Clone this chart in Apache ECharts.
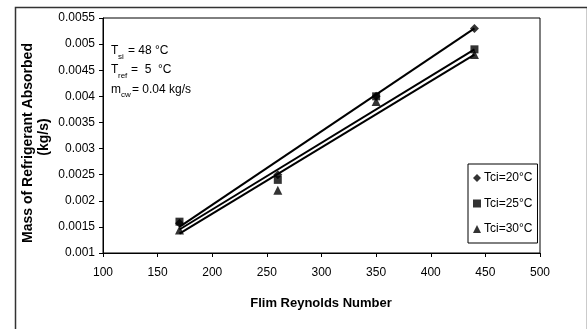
<!DOCTYPE html>
<html>
<head>
<meta charset="utf-8">
<script src="https://cdn.jsdelivr.net/npm/echarts@6/dist/echarts.min.js"></script>
<style>
  html, body { margin: 0; padding: 0; background: #fff; }
  #chart { width: 587px; height: 329px; }
</style>
</head>
<body>
<div id="chart"></div>
<script>
// measured points (Film Reynolds number vs mass absorbed, kg/s)
const reynolds = [170, 260, 350, 440];
const tci20 = [0.00157, 0.0025, 0.0040, 0.0053];
const tci25 = [0.0016, 0.0024, 0.0040, 0.0049];
const tci30 = [0.00144, 0.0022, 0.0039, 0.0048];

// trend line end points
const trendX = [170, 440];
const trend20 = [0.0015, 0.0053];
const trend25 = [0.00145, 0.0049];
const trend30 = [0.00137, 0.0048];

const seriesNames = ["Tci=20°C", "Tci=25°C", "Tci=30°C"];

const pairs = (xs, ys) => xs.map((x, i) => [x, ys[i]]);
const FONT = "Liberation Sans, Arial, sans-serif";

const chart = echarts.init(document.getElementById("chart"));

const trendLine = (ys) => ({
  type: "line",
  data: pairs(trendX, ys),
  showSymbol: false,
  symbol: "none",
  lineStyle: { color: "#000", width: 2 },
  silent: true,
  z: 2,
});

const points = (name, ys, symbol, size) => ({
  name,
  type: "scatter",
  data: pairs(reynolds, ys),
  symbol,
  symbolSize: size,
  itemStyle: { color: "#000" },
  z: 3,
});

chart.setOption({
  animation: false,
  backgroundColor: "#fff",
  textStyle: { fontFamily: FONT },
  grid: {
    left: 103, top: 18, width: 437, height: 235,
    show: true, borderColor: "#000", borderWidth: 1,
  },
  xAxis: {
    type: "value",
    min: 100, max: 500, interval: 50,
    axisLine: { lineStyle: { color: "#000", width: 1 } },
    axisTick: { show: true, length: 4, lineStyle: { color: "#000" } },
    axisLabel: { color: "#000", fontSize: 12, margin: 14, fontFamily: FONT },
    splitLine: { show: false },
  },
  yAxis: {
    type: "value",
    min: 0.001, max: 0.0055, interval: 0.0005,
    axisLine: { show: true, lineStyle: { color: "#000", width: 1 } },
    axisTick: { show: true, length: 4, lineStyle: { color: "#000" } },
    axisLabel: {
      color: "#000", fontSize: 12, margin: 8, fontFamily: FONT,
      formatter: (v) => String(parseFloat(v.toFixed(4))),
    },
    splitLine: { show: false },
  },
  legend: {
    orient: "vertical",
    left: 468, top: 164,
    padding: [7, 5, 7, 5],
    itemGap: 11.5,
    itemWidth: 8, itemHeight: 8,
    borderColor: "#000", borderWidth: 1,
    backgroundColor: "#fff",
    textStyle: { color: "#000", fontSize: 12, lineHeight: 14, fontFamily: FONT, padding: [0, 0, 0, -2] },
    data: [
      { name: seriesNames[0], icon: "diamond" },
      { name: seriesNames[1], icon: "rect" },
      { name: seriesNames[2], icon: "triangle" },
    ],
  },
  series: [
    trendLine(trend20),
    trendLine(trend25),
    trendLine(trend30),
    points(seriesNames[0], tci20, "diamond", 9),
    points(seriesNames[1], tci25, "rect", 8),
    points(seriesNames[2], tci30, "triangle", 9),
  ],
  graphic: [
    // outer frame
    {
      type: "rect", left: 13, top: 5, silent: true,
      shape: { width: 572, height: 340 },
      style: { fill: "none", stroke: "#333", lineWidth: 1.5 },
      z: -1,
    },
    // axis titles
    {
      type: "text", x: 28, y: 143, rotation: Math.PI / 2,
      style: {
        text: "Mass of Refrigerant Absorbed", fill: "#000",
        font: "bold 14px " + FONT, align: "center", verticalAlign: "middle",
      },
    },
    {
      type: "text", x: 44, y: 137, rotation: Math.PI / 2,
      style: {
        text: "(kg/s)", fill: "#000",
        font: "bold 14px " + FONT, align: "center", verticalAlign: "middle",
      },
    },
    {
      type: "text", x: 321, y: 303,
      style: {
        text: "Flim Reynolds Number", fill: "#000",
        font: "bold 13px " + FONT, align: "center", verticalAlign: "middle",
      },
    },
    // operating conditions
    { type: "text", x: 111, y: 51, style: { text: "T", fill: "#000", font: "12px " + FONT, verticalAlign: "middle" } },
    { type: "text", x: 118, y: 57, style: { text: "si", fill: "#000", font: "8px " + FONT, verticalAlign: "middle" } },
    { type: "text", x: 128, y: 51, style: { text: "= 48 °C", fill: "#000", font: "12px " + FONT, verticalAlign: "middle" } },

    { type: "text", x: 111, y: 70, style: { text: "T", fill: "#000", font: "12px " + FONT, verticalAlign: "middle" } },
    { type: "text", x: 118, y: 76, style: { text: "ref", fill: "#000", font: "8px " + FONT, verticalAlign: "middle" } },
    { type: "text", x: 131, y: 70, style: { text: "=  5  °C", fill: "#000", font: "12px " + FONT, verticalAlign: "middle" } },

    { type: "text", x: 111, y: 90, style: { text: "m", fill: "#000", font: "12px " + FONT, verticalAlign: "middle" } },
    { type: "text", x: 121, y: 95, style: { text: "cw", fill: "#000", font: "8px " + FONT, verticalAlign: "middle" } },
    { type: "text", x: 132, y: 90, style: { text: "= 0.04 kg/s", fill: "#000", font: "12px " + FONT, verticalAlign: "middle" } },
  ],
});
</script>
</body>
</html>
